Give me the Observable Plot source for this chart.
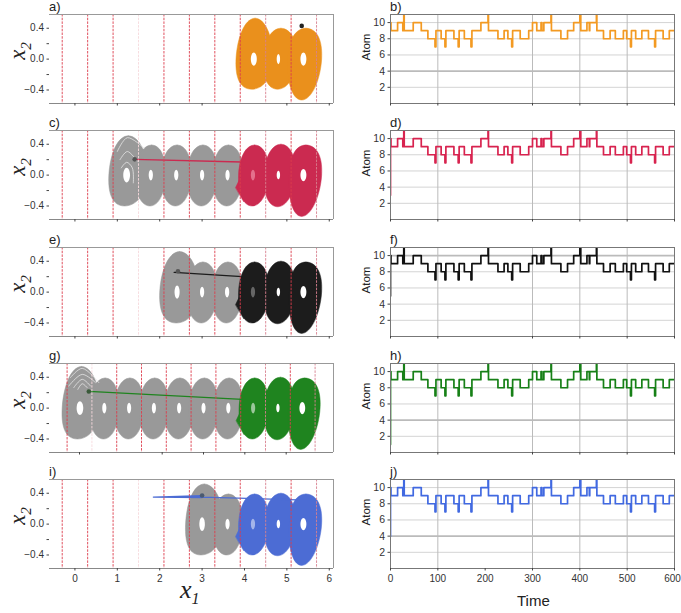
<!DOCTYPE html>
<html><head><meta charset="utf-8">
<script src="https://cdn.jsdelivr.net/npm/d3@7"></script>
<script src="https://cdn.jsdelivr.net/npm/@observablehq/plot@0.6"></script>
<style>
html,body{margin:0;padding:0;background:#fff}
#page{position:relative;width:681px;height:613px;overflow:hidden;background:#fff}
#page svg{position:absolute;background:transparent;overflow:visible}
.t{position:absolute;white-space:nowrap;color:#222}
.p{font:13px "Liberation Sans",sans-serif;line-height:13px}
.m{font:italic 23px "Liberation Serif",serif;transform:translate(-50%,-50%) rotate(-90deg)}
.m sub{font-size:15px;font-style:italic}
.a{font:11.5px "Liberation Sans",sans-serif;transform:translate(-50%,-50%) rotate(-90deg)}
</style></head><body><div id="page"></div>
<script>
// ---- Left column: phase-space lobes [xLeft, xRight, xTop, yTop, xBottom, yBottom]
const lobesA = [[3.80,4.66,4.25,.53,4.17,-.39],[4.44,5.24,4.86,.40,4.78,-.39],[5.02,5.82,5.45,.40,5.35,-.53]];
const lobesColored = [[3.86,4.58,4.24,.39,4.18,-.40],[4.46,5.20,4.86,.40,4.78,-.41],[5.05,5.82,5.45,.39,5.35,-.535]];
const greyC = [[.80,1.70,1.26,.51,1.17,-.40],[1.42,2.14,1.81,.39,1.77,-.40],[2.03,2.75,2.41,.39,2.37,-.40],[2.64,3.36,3.02,.39,2.98,-.40],[3.24,3.96,3.62,.39,3.58,-.40]];
const greyE = [[2.00,2.92,2.47,.525,2.39,-.40],[2.64,3.36,3.02,.39,2.98,-.40],[3.23,3.95,3.61,.39,3.57,-.40]];
const greyG = [[-.42,.48,.05,.54,-.05,-.40],[.24,.96,.62,.39,.58,-.40],[.84,1.56,1.22,.39,1.18,-.40],[1.44,2.16,1.82,.39,1.78,-.40],[2.05,2.77,2.43,.39,2.39,-.40],[2.64,3.36,3.02,.39,2.98,-.40],[3.24,3.96,3.62,.39,3.58,-.40]];
const greyI = [[2.61,3.50,3.05,.52,2.97,-.40],[3.24,3.96,3.62,.39,3.58,-.40]];
// Holes [x, halfWidth, halfHeight]
const holesOrbit = [[4.20,.05,.07],[4.80,.04,.055],[5.39,.07,.08]];
const holesA = [[4.22,.07,.085],[4.80,.04,.065],[5.39,.07,.085]];
const holesC = [[1.22,.08,.095],[1.79,.05,.07],[2.39,.05,.07],[3.0,.05,.07],[3.6,.05,.07]];
const holesE = [[2.41,.06,.085],[3.0,.05,.07],[3.59,.05,.07]];
const holesG = [[.01,.08,.09],[.6,.05,.07],[1.2,.05,.07],[1.8,.05,.07],[2.41,.05,.07],[3.0,.05,.07],[3.6,.05,.07]];
const holesI = [[3.0,.065,.09],[3.6,.05,.07]];
// Pointed edge at the entry of the coloured region
const wedge = [[3.79,-.16],[3.95,.02],[3.98,-.34]];
// White arcs inside the first lobes
const arcsC = [[[1.0,.306],[1.236,.485],[1.63,.35]],[[1.063,.2],[1.236,.306],[1.47,.18]],[[1.094,.094],[1.22,.166],[1.354,.094],[1.378,-.1]]];
const arcsG = [[[-.22,.395],[.065,.515],[.467,.33]],[[-.26,.286],[.065,.437],[.387,.33]],[[-.14,.265],[.065,.373],[.266,.286]],[[-.04,.243],[.065,.316],[.186,.265]]];
// Red separators
const separators = [-.3,.3,.9,1.5,2.1,2.7,3.3,3.9,4.5,5.1,5.7];
// ---- Right column: atom sequence
const times = [1,15,26,28,29,48,65,79,94,96,107,115,117,134,143,145,156,170,172,191,206,207,227,240,248,256,258,274,292,300,309,318,320,324,339,340,360,374,387,400,402,415,420,421,435,436,450,464,475,492,499,507,509,518,531,545,558,560,576,589,600];
const atoms = [9,10,9,11,9,10,9,8,7,9,8,7,9,8,7,9,8,7,9,10,11,9,8,9,8,7,9,8,9,10,9,10,9,10,11,9,8,9,10,11,9,10,9,10,11,9,8,9,8,9,8,7,9,8,9,8,7,9,8,9,9];
const yGrid = [2,4,6,8,10];
const tGrid = [100,300,400,500];

const panels = [
 {l:"a)",r:"b)",top:14,color:"#ea901c",line:"#f39a22",grey:[],col:lobesA,gh:[],ch:holesA,chc:["#fff","#fff","#fff"],wedge:false,xt:[0,1,2,3,5,6],dom:[-.6,6.1],dot:[5.35,.43],dotc:"#222",seg:[],arcs:[],faint:1.5,start:10,thick:4},
 {l:"c)",r:"d)",top:130,color:"#cb2a50",line:"#d8234f",grey:greyC,col:lobesColored,gh:holesC,ch:holesOrbit,chc:["#e4708c","#fff","#fff"],wedge:true,xt:[0,1,2,3,5,6],dom:[-.6,6.1],dot:[1.41,.204],dotc:"#555",seg:[[1.41,.204],[3.93,.17]],arcs:arcsC,faint:1.5,start:3,thick:null},
 {l:"e)",r:"f)",top:247,color:"#1c1c1c",line:"#111",grey:greyE,col:lobesColored,gh:holesE,ch:holesOrbit,chc:["#666","#fff","#fff"],wedge:true,xt:[0,1,2,3,5,6],dom:[-.6,6.1],dot:[2.43,.27],dotc:"#555",seg:[[2.34,.256],[3.95,.2]],arcs:[],faint:1.5,start:5,thick:10},
 {l:"g)",r:"h)",top:363,color:"#1f841f",line:"#178017",grey:greyG,col:lobesColored,gh:holesG,ch:holesOrbit,chc:["#9cc79c","#fff","#fff"],wedge:true,xt:[0,2,3,4,5],dom:[-.726,6.145],dot:[.225,.216],dotc:"#3a5a3a",seg:[[.225,.216],[3.94,.113]],arcs:arcsG,faint:.3,start:1,thick:4},
 {l:"i)",r:"j)",top:479,color:"#4c6cd4",line:"#4169e1",grey:greyI,col:lobesColored,gh:holesI,ch:holesOrbit,chc:["#a5b5ea","#fff","#fff"],wedge:true,xt:[0,1,2,3,4,5,6],dom:[-.6,6.1],dot:[3.0,.37],dotc:"#4a5a70",seg:[[1.85,.35],[3.0,.37],[3.0,.345],[1.85,.35],[3.0,.35],[5.25,.315]],arcs:[],faint:1.5,start:4,thick:4,last:true}
];

const H = 89;
const TENSION = -.75;
const page = document.getElementById("page");
const lobePts = (list,prefix) => list.flatMap((d,i)=>[
  {id:prefix+i,x:d[0],y:0},{id:prefix+i,x:d[2],y:d[3]},{id:prefix+i,x:d[1],y:0},{id:prefix+i,x:d[4],y:d[5]}]);
const holePts = (h,i) => [
  {id:i,x:h[0]-h[1],y:0},{id:i,x:h[0],y:h[2]},{id:i,x:h[0]+h[1],y:0},{id:i,x:h[0],y:-h[2]}];
function label(cls,html,x,y){const d=document.createElement("div");d.className="t "+cls;d.innerHTML=html;d.style.left=x+"px";d.style.top=y+"px";page.appendChild(d);}

panels.forEach(p=>{
  const mb = 22, mt = 4;
  const holeMarks = (holes,colors) => holes.map((h,i)=>Plot.line(holePts(h,i),{x:"x",y:"y",z:"id",fill:colors?colors[i]:"#fff",stroke:"none",curve:"cardinal-closed",tension:-.65}));
  const L = Plot.plot({
    width:340,height:H+mt+mb,marginLeft:49,marginRight:7,marginTop:mt,marginBottom:mb,
    style:{fontFamily:"Liberation Sans",fontSize:"10px",color:"#333"},
    x:{domain:p.dom},y:{domain:[-.575,.578]},
    marks:[
      p.grey.length?Plot.line(lobePts(p.grey,"g"),{x:"x",y:"y",z:"id",fill:"#999",stroke:"#999",strokeWidth:.5,curve:"cardinal-closed",tension:TENSION}):null,
      ...holeMarks(p.gh),
      ...p.arcs.map(a=>Plot.line(a,{x:d=>d[0],y:d=>d[1],stroke:"#e4e4e4",strokeWidth:.8,curve:"catmull-rom"})),
      p.wedge?Plot.line(wedge,{x:d=>d[0],y:d=>d[1],fill:p.color,stroke:p.color,strokeWidth:.5,curve:"linear-closed"}):null,
      Plot.line(lobePts(p.col,"c"),{x:"x",y:"y",z:"id",fill:p.color,stroke:p.color,strokeWidth:.5,curve:"cardinal-closed",tension:TENSION}),
      ...holeMarks(p.ch,p.chc),
      p.seg.length?Plot.line(p.seg,{x:d=>d[0],y:d=>d[1],stroke:p.color,strokeWidth:1.3}):null,
      Plot.ruleX(separators,{stroke:d=>d===p.faint?"#f6d9dd":(d===4.5||d===5.7?"#d8808e":"#dc3c4c"),strokeWidth:.9,strokeDasharray:"2.5,1.2"}),
      Plot.dot([p.dot],{x:d=>d[0],y:d=>d[1],r:2.3,fill:p.dotc,stroke:"none"}),
      Plot.ruleY([.578],{stroke:"#999",strokeWidth:1.2}),
      Plot.ruleY([-.575],{stroke:"#888",strokeWidth:1}),
      Plot.ruleX([p.dom[1]],{stroke:"#999",strokeWidth:1}),
      Plot.axisY({ticks:[-.4,-.2,0,.2,.4],tickSize:2.5,tickPadding:3,label:null,stroke:"#444",fontSize:10,
        tickFormat:d=>Math.abs(d)===.2?"":(d<0?"\u22120.4":d.toFixed(1))}),
      Plot.axisX({ticks:p.xt,tickSize:2.5,tickPadding:4,label:null,stroke:"#444",fontSize:10,
        tickFormat:p.last?d=>String(d):()=>""})
    ]
  });
  L.style.left="0px";L.style.top=(p.top-mt)+"px";page.appendChild(L);

  const series = [{t:0,a:p.start},{t:0,a:10},...times.map((t,i)=>({t,a:atoms[i]}))];
  const R = Plot.plot({
    width:341,height:H+mt+mb,marginLeft:50,marginRight:7,marginTop:mt,marginBottom:mb,
    style:{fontFamily:"Liberation Sans",fontSize:"10px",color:"#333"},
    x:{domain:[0,600]},y:{domain:[0,11]},
    marks:[
      Plot.ruleY(yGrid,{stroke:d=>d===p.thick?"#bbb":"#d4d4d4",strokeWidth:d=>d===p.thick?1.6:1}),
      Plot.ruleX(tGrid,{stroke:"#bbb",strokeWidth:1}),
      Plot.line(series,{x:"t",y:"a",stroke:p.line,strokeWidth:1.7,curve:"step-after",clip:true}),
      Plot.frame({stroke:"#777",strokeWidth:1}),
      Plot.axisY({ticks:yGrid,tickSize:2.5,tickPadding:3,label:null,stroke:"#444",fontSize:10.5}),
      Plot.axisX({ticks:p.last?[0,100,200,300,400,500,600]:[0,100,300,400,500,600],tickSize:2.5,text:null,label:null,stroke:"#444"}),
      p.last?Plot.axisX({ticks:[0,100,200,300,400,500],tickSize:0,tickPadding:6.5,label:null,fontSize:10}):null,
      p.last?Plot.axisX({ticks:[600],tickSize:0,tickPadding:6.5,label:null,fontSize:10,dx:-2}):null
    ]
  });
  R.style.left="340px";R.style.top=(p.top-mt)+"px";page.appendChild(R);

  label("p",p.l,49,p.top-14);
  label("p",p.r,390,p.top-14);
  label("m","<i>x</i><sub>2</sub>",20,p.top+37);
  label("a","Atom",366,p.top+33);
});
const x1 = document.createElement("div");x1.className="t";x1.style.cssText="left:180px;top:575px;font:italic 26px 'Liberation Serif',serif;color:#222;line-height:30px";x1.innerHTML="x<sub style='font-size:16px;line-height:0'>1</sub>";page.appendChild(x1);
const tm = document.createElement("div");tm.className="t";tm.style.cssText="left:517px;top:592px;font:15px 'Liberation Sans',sans-serif;color:#222";tm.textContent="Time";page.appendChild(tm);
</script></body></html>
